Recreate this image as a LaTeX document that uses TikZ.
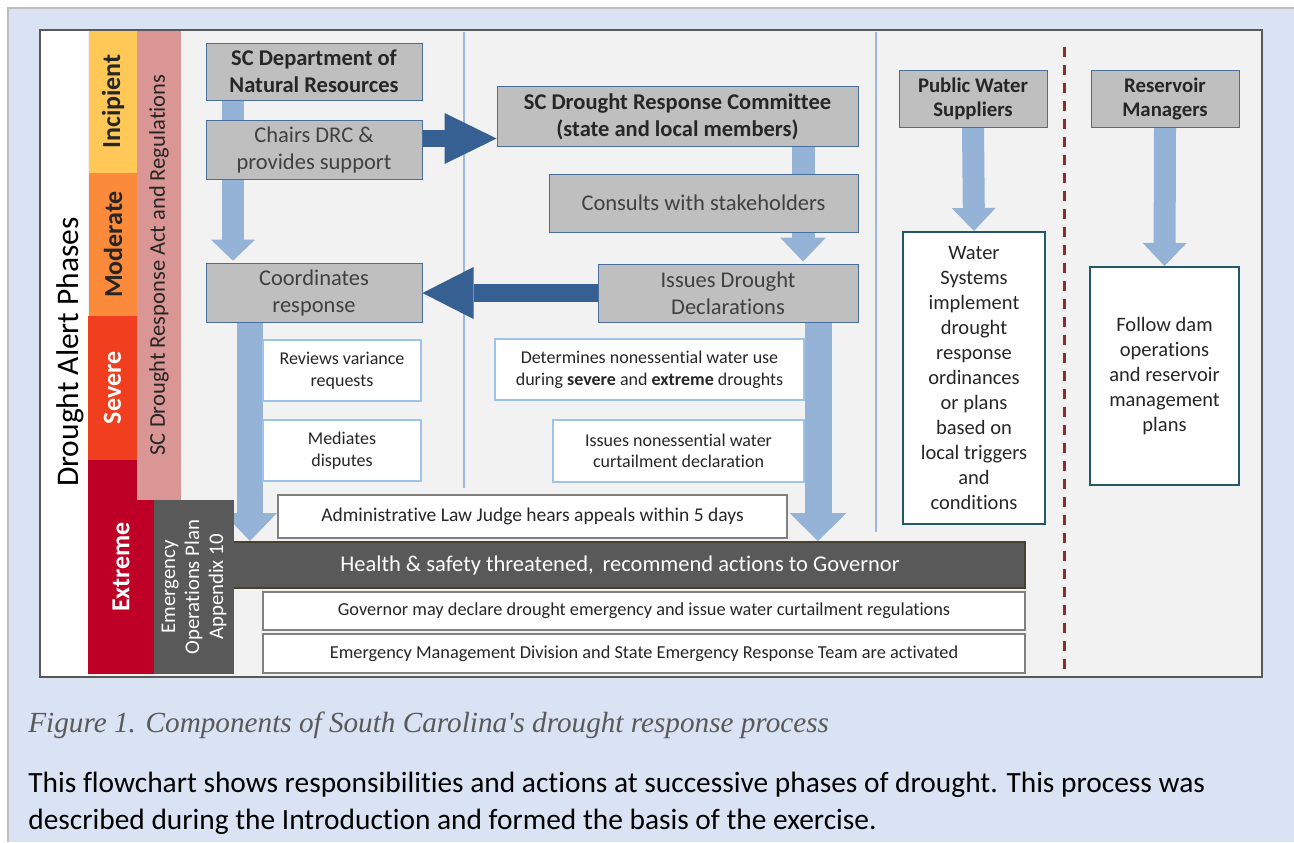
\documentclass[tikz,border=0pt]{standalone}
\usepackage{fontspec}
\setmainfont[Ligatures=NoCommon]{Carlito}
\newfontfamily\capfont{Liberation Serif}
\usetikzlibrary{arrows.meta}
\pgfdeclarelayer{panel}
\pgfdeclarelayer{flow}
\pgfsetlayers{panel,flow,main}
\definecolor{pagebg}{HTML}{DAE3F3}
\definecolor{panelbg}{HTML}{F2F2F2}
\definecolor{framec}{HTML}{595959}
\definecolor{incip}{HTML}{FFC857}
\definecolor{moder}{HTML}{FB8A3A}
\definecolor{sever}{HTML}{F03E1F}
\definecolor{extrm}{HTML}{BF0026}
\definecolor{actpink}{HTML}{DA9694}
\definecolor{eopgray}{HTML}{595959}
\definecolor{hdrfill}{HTML}{BFBFBF}
\definecolor{hdrline}{HTML}{4A6E9C}
\definecolor{lblue}{HTML}{95B3D7}
\definecolor{dblue}{HTML}{376092}
\definecolor{noteline}{HTML}{9DC3E6}
\definecolor{sepline}{HTML}{9CB9DD}
\definecolor{dashred}{HTML}{8E2B2B}
\definecolor{govline}{HTML}{808080}
\definecolor{hbarline}{HTML}{45432F}
\definecolor{tealline}{HTML}{215967}
\definecolor{txtdark}{HTML}{262626}
\definecolor{txtgray}{HTML}{404040}
\begin{document}
\begin{tikzpicture}[x=0.5pt,y=-0.5pt,
	hdrbox/.style={draw=hdrline,fill=hdrfill,line width=0.5pt,text=txtdark,align=center,
		font=\fontsize{11.25}{13.5}\selectfont\bfseries,minimum height=28.5pt},
	actbox/.style={draw=hdrline,fill=hdrfill,line width=0.5pt,text=txtgray,align=center,
		font=\fontsize{11.25}{13.5}\selectfont,minimum height=29pt},
	notebox/.style={draw=noteline,fill=white,line width=1pt,text=txtdark,align=center,
		font=\fontsize{9}{10.8}\selectfont,minimum height=30.5pt},
	govbox/.style={draw=govline,fill=white,line width=1pt,text=txtdark,align=center,
		font=\fontsize{9.15}{11}\selectfont,minimum width=381pt},
	localbox/.style={draw=tealline,fill=white,line width=1pt,text=txtdark,align=center,
		font=\fontsize{10.25}{12.5}\selectfont},
	phase/.style={rotate=90,inner sep=0pt,outer sep=0pt,font=\fontsize{13}{15}\selectfont\bfseries},
	lbarrow/.style n args={3}{draw=lblue,line width=#1,-{Triangle[width=#2,length=#3,line width=0pt]}},
	dbarrow/.style n args={3}{draw=dblue,line width=#1,-{Triangle[width=#2,length=#3,line width=0pt]}}]
	\useasboundingbox (0,0) rectangle (1294,842);
	\begin{pgfonlayer}{panel}
		\fill[white] (0,0) rectangle (1294,842);
		\fill[pagebg] (8,8) rectangle (1294,842);
		\draw[black!25,line width=1pt] (8,842) -- (8,8) -- (1294,8);
		\fill[panelbg] (40,30) rectangle (1262,677);
		\fill[white] (40,30) rectangle (88,677);
		\draw[sepline,line width=1pt] (464,32) -- (464,488);
		\draw[sepline,line width=1pt] (876,32) -- (876,532);
		\draw[dashred,line width=1.5pt,dash pattern=on 5pt off 4pt] (1064,47) -- (1064,677);
	\end{pgfonlayer}
	%phases and legal basis
	\node[rotate=90,font=\fontsize{15.75}{18}\selectfont] (phases) at (70,352) {Drought Alert Phases};
	\node[phase,fill=incip,text=txtdark,minimum width=71.5pt,minimum height=24pt] (incip) at (113,101.5) {Incipient};
	\node[phase,fill=moder,text=txtdark,minimum width=71.5pt,minimum height=24pt] (moder) at (113,244.5) {Moderate};
	\node[phase,fill=sever,text=white,minimum width=72pt,minimum height=24.5pt] (sever) at (112.5,388) {Severe};
	\node[phase,fill=extrm,text=white,minimum width=107pt,minimum height=33pt] (extrm) at (121,567) {Extreme};
	\node[phase,fill=actpink,text=txtdark,font=\fontsize{11.25}{13.5}\selectfont,
		minimum width=235pt,minimum height=22pt] (act) at (159,265) {SC Drought Response Act and Regulations};
	%state agencies
	\node[hdrbox,minimum width=108pt] (dnr) at (314,71.5) {SC Department of\\Natural Resources};
	\node[actbox,minimum width=108pt] (chairs) at (314,150) {Chairs DRC \&\\provides support};
	\node[actbox,minimum width=108pt] (coord) at (314,293) {Coordinates\\response};
	\node[hdrbox,minimum width=180.5pt] (drc) at (677.5,116.5) {SC Drought Response Committee\\(state and local members)};
	\node[actbox,minimum width=154.5pt] (consult) at (703.5,203) {Consults with stakeholders};
	\node[actbox,minimum width=130pt] (issues) at (728,293) {Issues Drought\\Declarations};
	\node[notebox,minimum width=79pt] (review) at (342,370.5) {Reviews variance\\requests};
	\node[notebox,minimum width=79pt] (mediate) at (342,450.5) {Mediates\\disputes};
	\node[notebox,minimum width=154.5pt] (nonuse) at (649.5,369.5) {Determines nonessential water use\\during \textbf{severe} and \textbf{extreme} droughts};
	\node[notebox,minimum width=125.5pt,minimum height=31pt] (curtail) at (678.5,451) {Issues nonessential water\\curtailment declaration};
	%extreme phase
	\node[govbox,font=\fontsize{9.75}{11.5}\selectfont,minimum width=254.5pt,minimum height=21.5pt] (alj) at (532.5,516.5) {Administrative Law Judge hears appeals within 5 days};
	\node[draw=hbarline,fill=eopgray,line width=1pt,text=white,font=\fontsize{11.25}{13}\selectfont,
		minimum width=405pt,minimum height=23pt] (health) at (620,565) {Health \& safety threatened,\, recommend actions to Governor};
	\node[phase,fill=eopgray,text=white,align=center,font=\fontsize{10.4}{12}\selectfont,
		minimum width=87pt,minimum height=40pt] (eop) at (194,587) {Emergency\\Operations Plan\\Appendix 10};
	\node[govbox,minimum height=19pt] (gov) at (644,611) {Governor may declare drought emergency and issue water curtailment regulations};
	\node[govbox,minimum height=19.5pt] (emd) at (644,653.5) {Emergency Management Division and State Emergency Response Team are activated};
	%local actors
	\node[hdrbox,font=\fontsize{10.4}{12}\selectfont\bfseries,minimum width=74pt] (pws) at (973,98.5) {Public Water\\Suppliers};
	\node[localbox,minimum width=71pt,minimum height=146pt] (wsys) at (974,378) {Water\\Systems\\implement\\drought\\response\\ordinances\\or plans\\based on\\local triggers\\and\\conditions};
	\node[hdrbox,font=\fontsize{10.4}{12}\selectfont\bfseries,minimum width=74pt] (resm) at (1165,98.5) {Reservoir\\Managers};
	\node[localbox,minimum width=74.5pt,minimum height=109pt] (follow) at (1164.5,376) {Follow dam\\operations\\and reservoir\\management\\plans};
	\begin{pgfonlayer}{flow}
		\draw[lbarrow={11pt}{22pt}{10.5pt}] ([xshift=-40.5pt]dnr.south) -- ([xshift=-40.5pt,yshift=1pt]coord.north);
		\draw[lbarrow={13pt}{27pt}{14pt}] ([xshift=-32pt]coord.south) -- ([xshift=-32pt]coord.south |- health.north);
		\draw[lbarrow={11.5pt}{23pt}{12pt}] ([xshift=62.75pt]drc.south) -- ([xshift=62.75pt,yshift=1pt]drc.south |- issues.north);
		\draw[lbarrow={13.5pt}{28.5pt}{14pt}] ([xshift=45pt]issues.south) -- ([xshift=45pt]issues.south |- health.north);
		\draw[lbarrow={11pt}{22pt}{11.5pt}] (pws.south) -- (wsys.north);
		\draw[lbarrow={11pt}{22pt}{11.5pt}] (resm.south) -- (follow.north);
		\draw[dbarrow={8.5pt}{25.5pt}{26pt}] ([yshift=5.75pt]chairs.east) -- ([yshift=5.75pt]chairs.east -| drc.west);
		\draw[dbarrow={9pt}{26pt}{25.5pt}] (issues.west) -- (coord.east);
	\end{pgfonlayer}
	\draw[framec,line width=1pt] (40,30) rectangle (1262,677);
	%caption
	\node[anchor=base west,inner sep=0pt,text=framec,font=\capfont\itshape\fontsize{14.6}{17}\selectfont] (caption) at (28,732) {Figure 1. Components of South Carolina's drought response process};
	\node[anchor=base west,inner sep=0pt,align=left,font=\fontsize{14.7}{18.5}\selectfont] (descr) at (28,829) {This flowchart shows responsibilities and actions at successive phases of drought. This process was\\described during the Introduction and formed the basis of the exercise.};
\end{tikzpicture}
\end{document}
